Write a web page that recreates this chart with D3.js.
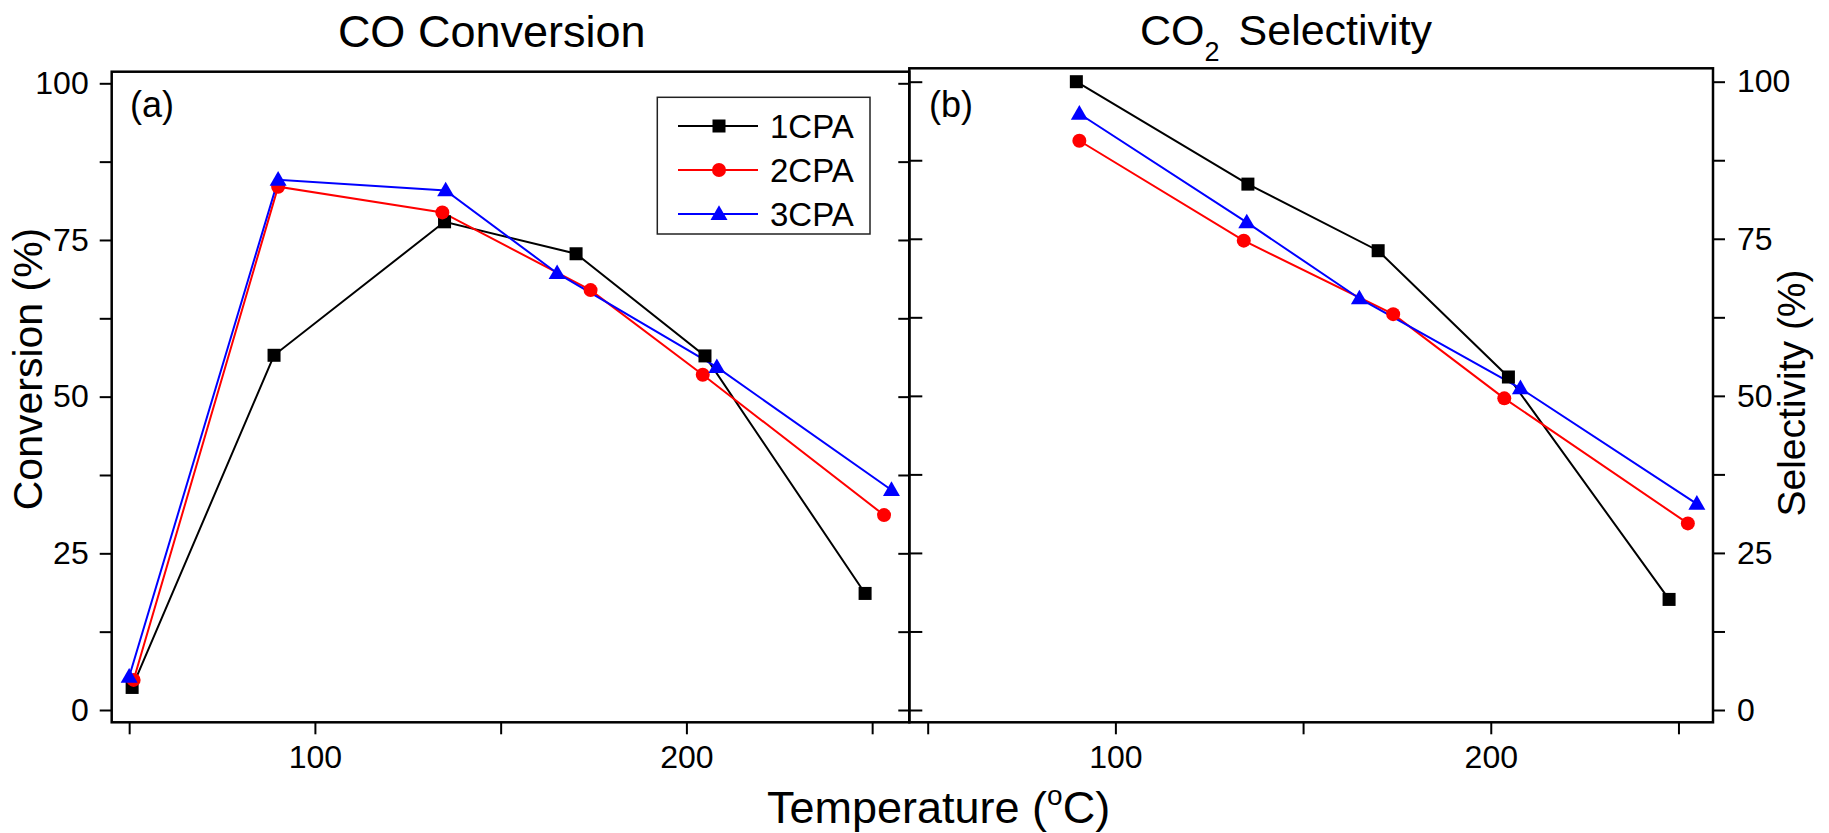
<!DOCTYPE html>
<html><head><meta charset="utf-8">
<script src="https://cdn.jsdelivr.net/npm/d3@7"></script>
<style>
body{margin:0;background:#fff}
svg{display:block}
text{font-family:"Liberation Sans",Arial,sans-serif;fill:#000}
</style>
</head><body>
<svg id="c" width="1829" height="833"></svg>
<script>
// ---- data ----
const seriesNames = ["1CPA", "2CPA", "3CPA"];
const seriesColors = ["#000000", "#ff0000", "#0000ff"];
const seriesShapes = ["square", "circle", "triangle"];

// (a) CO conversion (%)
const conv1T = [50.8, 89.0, 134.9, 170.3, 205.0, 248.1];
const conv1V = [3.6, 56.6, 77.9, 72.8, 56.5, 18.6];
const conv2T = [51.2, 90.1, 134.3, 174.2, 204.4, 253.2];
const conv2V = [4.8, 83.5, 79.4, 67.0, 53.5, 31.1];
const conv3T = [50.0, 90.1, 135.2, 165.2, 208.2, 255.2];
const conv3V = [5.3, 84.6, 82.9, 69.7, 54.7, 35.1];

// (b) CO2 selectivity (%)
const sel1T = [89.6, 135.3, 170.0, 204.7, 247.5];
const sel1V = [100.0, 83.7, 73.1, 53.0, 17.6];
const sel2T = [90.4, 134.2, 174.0, 203.6, 252.5];
const sel2V = [90.6, 74.7, 63.0, 49.6, 29.7];
const sel3T = [90.4, 135.0, 165.0, 207.9, 254.9];
const sel3V = [94.9, 77.6, 65.5, 51.2, 32.8];

const xTicks = [50, 100, 150, 200, 250];
const xTickLabels = ["", "100", "", "200", ""];
const yTicks = [0, 12.5, 25, 37.5, 50, 62.5, 75, 87.5, 100];
const yTickLabels = ["0", "", "25", "", "50", "", "75", "", "100"];

// ---- drawing ----
const svg = d3.select("#c");
const FONT = "Liberation Sans, Arial, sans-serif";

function zip(T, V) { return T.map((t, i) => ({t: t, v: V[i]})); }

function marker(g, shape, color, x, y) {
  if (shape === "square") {
    g.append("rect").attr("x", x - 6.5).attr("y", y - 6.5).attr("width", 13).attr("height", 13).attr("fill", color);
  } else if (shape === "circle") {
    g.append("circle").attr("cx", x).attr("cy", y).attr("r", 7).attr("fill", color);
  } else {
    g.append("path").attr("d", d3.symbol().type(d3.symbolTriangle).size(125)())
      .attr("transform", `translate(${x},${y + 1})`).attr("fill", color);
  }
}

function panel(cfg) {
  const x = d3.scaleLinear().domain(cfg.xDomain).range([cfg.x0, cfg.x1]);
  const y = d3.scaleLinear().domain([0, 100]).range([cfg.y0, cfg.y100]);
  const g = svg.append("g");

  const ax = g.append("g").attr("transform", `translate(0,${cfg.yBot})`)
    .call(d3.axisBottom(x).tickValues(xTicks).tickFormat((d, i) => xTickLabels[i]).tickSize(12).tickPadding(11));
  ax.select(".domain").remove();

  if (cfg.labelSide === "left") {
    const ay = g.append("g").attr("transform", `translate(${cfg.x0},0)`)
      .call(d3.axisLeft(y).tickValues(yTicks).tickFormat((d, i) => yTickLabels[i]).tickSize(12).tickPadding(11));
    ay.select(".domain").remove();
    const ar = g.append("g").attr("transform", `translate(${cfg.x1},0)`)
      .call(d3.axisLeft(y).tickValues(yTicks).tickFormat("").tickSize(11));
    ar.select(".domain").remove();
  } else {
    const ay = g.append("g").attr("transform", `translate(${cfg.x1},0)`)
      .call(d3.axisRight(y).tickValues(yTicks).tickFormat((d, i) => yTickLabels[i]).tickSize(12).tickPadding(12));
    ay.select(".domain").remove();
    const al = g.append("g").attr("transform", `translate(${cfg.x0},0)`)
      .call(d3.axisRight(y).tickValues(yTicks).tickFormat("").tickSize(13));
    al.select(".domain").remove();
  }
  g.selectAll(".tick line").attr("stroke", "#000").attr("stroke-width", 2);
  g.selectAll(".tick text").attr("font-size", 32).attr("font-family", FONT).attr("fill", "#000");

  g.append("rect").attr("x", cfg.x0).attr("y", cfg.yTop)
    .attr("width", cfg.x1 - cfg.x0).attr("height", cfg.yBot - cfg.yTop)
    .attr("fill", "none").attr("stroke", "#000").attr("stroke-width", 2.5);

  const line = d3.line().x(d => x(d.t)).y(d => y(d.v));
  cfg.series.forEach((s, i) => {
    g.append("path").datum(zip(s[0], s[1])).attr("d", line).attr("fill", "none")
      .attr("stroke", seriesColors[i]).attr("stroke-width", 2);
  });
  cfg.series.forEach((s, i) => {
    zip(s[0], s[1]).forEach(p => marker(g, seriesShapes[i], seriesColors[i], x(p.t), y(p.v)));
  });

  g.append("text").attr("x", cfg.tagX).attr("y", 117).attr("font-size", 36).text(cfg.tag);
  return g;
}

panel({
  x0: 111.7, x1: 909.3, yTop: 71.7, yBot: 722.3, y0: 710, y100: 83.3,
  xDomain: [45.3, 260], labelSide: "left", tag: "(a)", tagX: 130,
  series: [[conv1T, conv1V], [conv2T, conv2V], [conv3T, conv3V]]
});
panel({
  x0: 909.3, x1: 1713, yTop: 68.3, yBot: 722.3, y0: 710, y100: 81.7,
  xDomain: [45.1, 259.2], labelSide: "right", tag: "(b)", tagX: 929,
  series: [[sel1T, sel1V], [sel2T, sel2V], [sel3T, sel3V]]
});

// legend
const lg = svg.append("g");
lg.append("rect").attr("x", 657.3).attr("y", 97.3).attr("width", 212.7).attr("height", 136.7)
  .attr("fill", "#fff").attr("stroke", "#222").attr("stroke-width", 1.5);
seriesNames.forEach((n, i) => {
  const yy = 126 + i * 44;
  lg.append("line").attr("x1", 678).attr("x2", 758).attr("y1", yy).attr("y2", yy)
    .attr("stroke", seriesColors[i]).attr("stroke-width", 2);
  marker(lg, seriesShapes[i], seriesColors[i], 719, yy);
  lg.append("text").attr("x", 770).attr("y", yy + 12).attr("font-size", 33).text(n);
});

// titles
svg.append("text").attr("x", 491.7).attr("y", 46.7).attr("text-anchor", "middle")
  .attr("font-size", 45).text("CO Conversion");
const t2 = svg.append("text").attr("x", 1140).attr("y", 45).attr("font-size", 43);
t2.append("tspan").text("CO");
t2.append("tspan").attr("font-size", 27).attr("dy", 16).text("2");
t2.append("tspan").attr("dy", -16).attr("dx", 19).text("Selectivity");

// axis titles
svg.append("text").attr("transform", "translate(42,369) rotate(-90)").attr("text-anchor", "middle")
  .attr("font-size", 41).text("Conversion (%)");
svg.append("text").attr("transform", "translate(1805,393) rotate(-90)").attr("text-anchor", "middle")
  .attr("font-size", 39).text("Selectivity (%)");
const xt = svg.append("text").attr("x", 767).attr("y", 823).attr("font-size", 45);
xt.append("tspan").text("Temperature (");
xt.append("tspan").attr("font-size", 28).attr("dy", -18).text("o");
xt.append("tspan").attr("dy", 18).text("C)");
</script>
</body></html>
